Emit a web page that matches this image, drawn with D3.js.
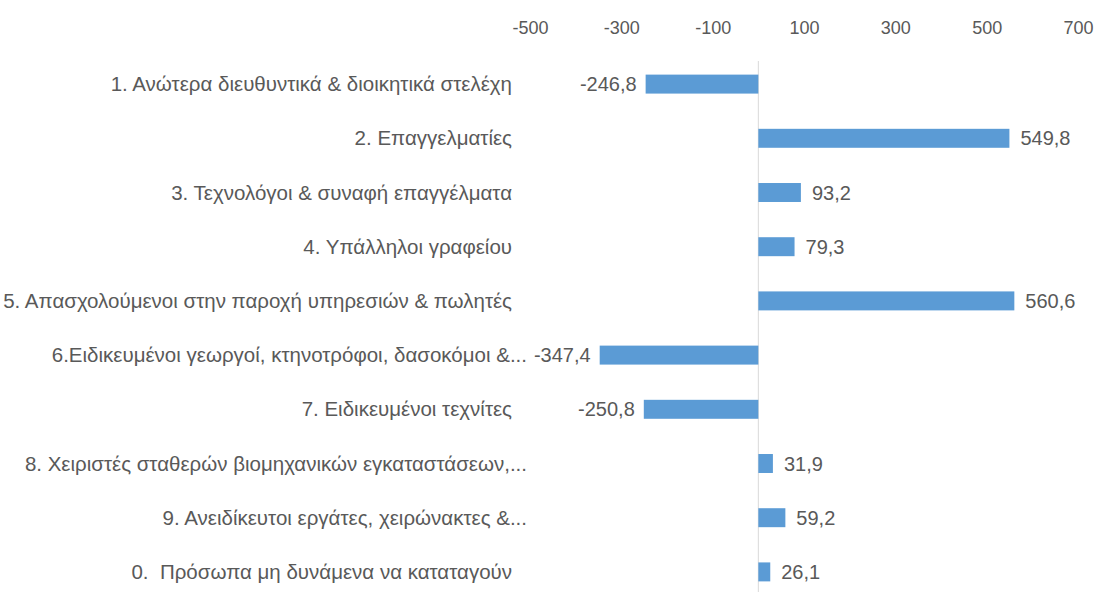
<!DOCTYPE html>
<html>
<head>
<meta charset="utf-8">
<script src="https://cdn.jsdelivr.net/npm/d3@7"></script>
<style>
  body { margin: 0; background: #fff; }
  svg text { font-family: 'Liberation Sans Narrow', 'Liberation Sans', sans-serif; fill: #595959; }
  .axis-x .domain, .axis-x .tick line { display: none; }
  .axis-x .tick text { font-size: 18px; }
  .label-cat { font-size: 20.5px; white-space: pre; }
  .label-val { font-size: 20px; }
</style>
</head>
<body>
<div id="chart"></div>
<script>
// data
const categories = [
  '1. Ανώτερα διευθυντικά & διοικητικά στελέχη',
  '2. Επαγγελματίες',
  '3. Τεχνολόγοι & συναφή επαγγέλματα',
  '4. Υπάλληλοι γραφείου',
  '5. Απασχολούμενοι στην παροχή υπηρεσιών & πωλητές',
  '6.Ειδικευμένοι γεωργοί, κτηνοτρόφοι, δασοκόμοι &...',
  '7. Ειδικευμένοι τεχνίτες',
  '8. Χειριστές σταθερών βιομηχανικών εγκαταστάσεων,...',
  '9. Ανειδίκευτοι εργάτες, χειρώνακτες &...',
  '0.  Πρόσωπα μη δυνάμενα να καταταγούν',
];
const values = [-246.8, 549.8, 93.2, 79.3, 560.6, -347.4, -250.8, 31.9, 59.2, 26.1];
const tickValues = [-500, -300, -100, 100, 300, 500, 700];

// dimensions
const WIDTH = 1094;
const HEIGHT = 592;
const PLOT_LEFT = 530;
const PLOT_RIGHT = 1078;
const PLOT_TOP = 57;
const PLOT_BOTTOM = 599;
const LABEL_X = 512;
const BAR_COLOR = '#5B9BD5';

// greek-style numbers: comma decimal, plain hyphen minus
const locale = d3.formatLocale({
  decimal: ',', thousands: '.', grouping: [3], currency: ['', '€'], minus: '-',
});
const valFormat = locale.format('.1f');
const tickFormat = locale.format('d');

const scaleX = d3.scaleLinear().domain([-500, 700]).range([PLOT_LEFT, PLOT_RIGHT]);
const scaleY = d3.scaleBand()
  .domain(d3.range(categories.length))
  .range([PLOT_TOP, PLOT_BOTTOM])
  .paddingInner(0.65)
  .paddingOuter(0.325);

const $svg = d3.select('#chart').append('svg')
  .attr('width', WIDTH)
  .attr('height', HEIGHT);

// zero line
$svg.append('line')
  .attr('x1', scaleX(0)).attr('x2', scaleX(0))
  .attr('y1', 61).attr('y2', HEIGHT)
  .attr('stroke', '#d9d9d9')
  .attr('stroke-width', 1);

// top axis
$svg.append('g')
  .attr('class', 'axis-x')
  .attr('transform', 'translate(0, 34)')
  .call(d3.axisTop(scaleX).tickValues(tickValues).tickSize(0).tickFormat(tickFormat))
  .call((g) => g.selectAll('.tick text').attr('y', 0).attr('dy', 0));

const yMid = (i) => scaleY(i) + scaleY.bandwidth() / 2;

// bars
$svg.append('g').selectAll('rect')
  .data(values)
  .join('rect')
  .attr('x', (d) => scaleX(Math.min(0, d)))
  .attr('width', (d) => Math.abs(scaleX(d) - scaleX(0)))
  .attr('y', (d, i) => scaleY(i))
  .attr('height', scaleY.bandwidth())
  .attr('fill', BAR_COLOR);

// value labels
$svg.append('g').selectAll('text')
  .data(values)
  .join('text')
  .attr('class', 'label-val')
  .attr('x', (d) => scaleX(d) + (d < 0 ? -9 : 11))
  .attr('y', (d, i) => yMid(i))
  .attr('dy', '0.35em')
  .attr('text-anchor', (d) => (d < 0 ? 'end' : 'start'))
  .text((d) => valFormat(d));

// category labels (truncated ones sit a bit further right)
$svg.append('g').selectAll('text')
  .data(categories)
  .join('text')
  .attr('class', 'label-cat')
  .attr('x', (d) => (d.endsWith('...') ? LABEL_X + 15 : LABEL_X))
  .attr('y', (d, i) => yMid(i))
  .attr('dy', '0.35em')
  .attr('text-anchor', 'end')
  .text((d) => d);
</script>
</body>
</html>
